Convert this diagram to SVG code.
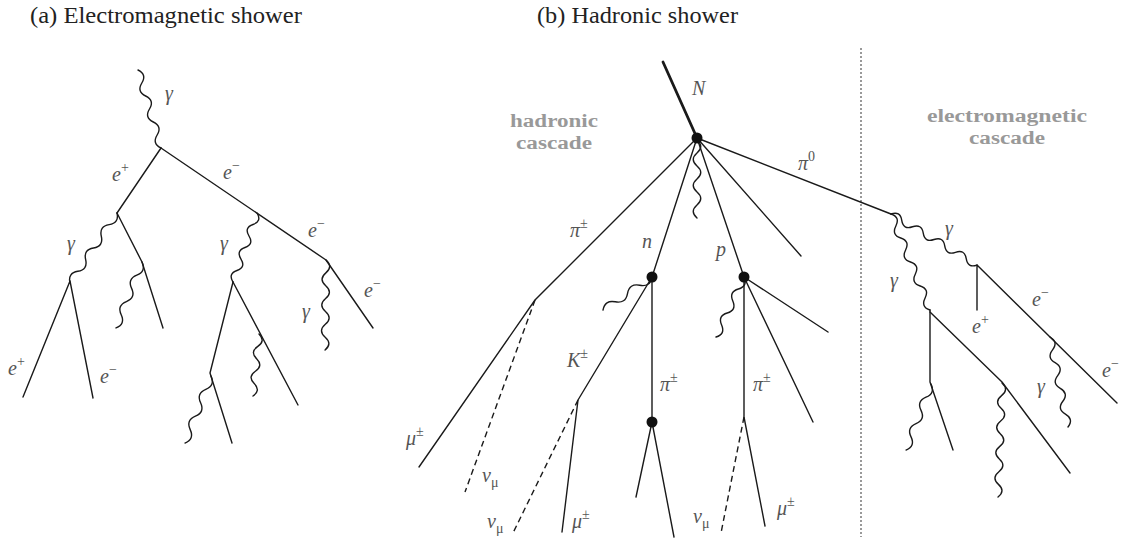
<svg xmlns="http://www.w3.org/2000/svg" width="1121" height="545" viewBox="0 0 1121 545">
<style>
.t{font-family:'Liberation Serif','DejaVu Serif','Times New Roman',serif;font-size:23px;fill:#222}
.l{fill:none;stroke:#1a1a1a;stroke-width:1.4;stroke-linecap:round;stroke-linejoin:round}
.w{fill:none;stroke:#1a1a1a;stroke-width:1.4;stroke-linecap:round}
.d{fill:none;stroke:#1a1a1a;stroke-width:1.4;stroke-dasharray:6,4}
.m{font-family:'Liberation Serif','DejaVu Serif','Times New Roman',serif;font-style:italic;font-size:20px;fill:#555}
.s{font-style:normal;font-size:14px}
.g{font-family:'Liberation Serif','DejaVu Serif','Times New Roman',serif;font-weight:bold;font-size:18.5px;fill:#999;text-anchor:middle}
.dot{fill:#111}
</style>
<rect width="1121" height="545" fill="#fff"/>
<g id="titles">
<text class="t" x="30" y="23" textLength="272" lengthAdjust="spacingAndGlyphs">(a) Electromagnetic shower</text>
<text class="t" x="537" y="23" textLength="201" lengthAdjust="spacingAndGlyphs">(b) Hadronic shower</text>
</g>
<g id="regions">
<line x1="861" y1="48" x2="861" y2="537" stroke="#999" stroke-width="2" stroke-dasharray="2,2"/>
<text class="g" x="554" y="127" textLength="88" lengthAdjust="spacingAndGlyphs">hadronic</text>
<text class="g" x="554" y="149" textLength="76" lengthAdjust="spacingAndGlyphs">cascade</text>
<text class="g" x="1007" y="122" textLength="160" lengthAdjust="spacingAndGlyphs">electromagnetic</text>
<text class="g" x="1007" y="144" textLength="76" lengthAdjust="spacingAndGlyphs">cascade</text>
</g>
<g id="connectors">
<path class="w" transform="translate(138,70) rotate(73.6)" d="M0,0q6.78,-7.5 13.55,0t13.55,0t13.55,0t13.55,0t13.55,0t13.55,0"/>
<path class="l" d="M161,148L117,213"/>
<path class="l" d="M161,148L326,260L373,328"/>
<path class="w" transform="translate(117,213) rotate(123.9)" d="M0,0q7.03,-7.5 14.05,0t14.05,0t14.05,0t14.05,0t14.05,0t14.05,0"/>
<path class="l" d="M117,213L142,262L163,328"/>
<path class="w" transform="translate(142,262) rotate(111.5)" d="M0,0q7.09,-7.5 14.18,0t14.18,0t14.18,0t14.18,0t14.18,0"/>
<path class="l" d="M70,281L23,397M70,281L93,398"/>
<path class="w" transform="translate(257,213) rotate(109.2)" d="M0,0q6.09,-7.5 12.18,0t12.18,0t12.18,0t12.18,0t12.18,0t12.18,0"/>
<path class="w" transform="translate(326,260) rotate(90.6)" d="M0,0q6.43,-7.5 12.86,0t12.86,0t12.86,0t12.86,0t12.86,0t12.86,0t12.86,0"/>
<path class="l" d="M233,282L210,373L232,443"/>
<path class="l" d="M233,282L298,405"/>
<path class="w" transform="translate(259,334) rotate(95.5)" d="M0,0q6.23,-7.5 12.46,0t12.46,0t12.46,0t12.46,0t12.46,0"/>
<path class="w" transform="translate(211,376) rotate(111.2)" d="M0,0q7.19,-7.5 14.38,0t14.38,0t14.38,0t14.38,0t14.38,0"/>
<path d="M663,62L697,138" fill="none" stroke="#1a1a1a" stroke-width="2.8" stroke-linecap="round"/>
<path class="l" d="M697,138L535,300L419,467"/>
<path class="d" d="M535,300L465,492"/>
<path class="l" d="M697,138L652,277M697,138L744,277M697,138L801,256M697,138L891,214"/>
<path class="w" transform="translate(697,140) rotate(90)" d="M0,0q6.5,-7.5 13,0t13,0t13,0t13,0t13,0t13,0"/>
<path class="w" transform="translate(652,277) rotate(146)" d="M0,0q7.39,-7.5 14.78,0t14.78,0t14.78,0t14.78,0"/>
<path class="l" d="M652,277L578,400L562,532"/>
<path class="d" d="M578,400L513,533"/>
<path class="l" d="M652,277L652,422L636,497M652,422L674,537"/>
<path class="w" transform="translate(744,277) rotate(115)" d="M0,0q6.62,-7.5 13.24,0t13.24,0t13.24,0t13.24,0t13.24,0"/>
<path class="l" d="M744,277L744,417L765,526M744,277L813,422M744,277L828,332"/>
<path class="d" d="M744,417L721,533"/>
<path class="w" transform="translate(891,214) rotate(30.7)" d="M0,0q6.25,-7.5 12.5,0t12.5,0t12.5,0t12.5,0t12.5,0t12.5,0t12.5,0t12.5,0"/>
<path class="w" transform="translate(891,214) rotate(67.9)" d="M0,0q6.48,-7.5 12.95,0t12.95,0t12.95,0t12.95,0t12.95,0t12.95,0t12.95,0t12.95,0"/>
<path class="l" d="M977,265L977,310M977,265L1117,403"/>
<path class="w" transform="translate(1050,337) rotate(78.7)" d="M0,0q6.56,-7.5 13.11,0t13.11,0t13.11,0t13.11,0t13.11,0t13.11,0t13.11,0"/>
<path class="l" d="M930,310L930,382L953,450"/>
<path class="w" transform="translate(931,384) rotate(110.7)" d="M0,0q7.06,-7.5 14.12,0t14.12,0t14.12,0t14.12,0t14.12,0"/>
<path class="l" d="M930,312L1002,382L1070,473"/>
<path class="w" transform="translate(1002,383) rotate(92)" d="M0,0q6.34,-7.5 12.68,0t12.68,0t12.68,0t12.68,0t12.68,0t12.68,0t12.68,0t12.68,0t12.68,0"/>
</g>
<g id="vertex-N"><circle class="dot" cx="697" cy="138" r="5.5"/></g>
<g id="vertex-n"><circle class="dot" cx="652" cy="277" r="5.5"/></g>
<g id="vertex-p"><circle class="dot" cx="744" cy="277" r="5.5"/></g>
<g id="vertex-pi"><circle class="dot" cx="652" cy="422" r="5.5"/></g>
<g id="labels-a">
<text class="m" x="165" y="100">γ</text>
<text class="m" x="112" y="181">e<tspan class="s" dy="-9">+</tspan></text>
<text class="m" x="223" y="179">e<tspan class="s" dy="-9">−</tspan></text>
<text class="m" x="67" y="250">γ</text>
<text class="m" x="220" y="250">γ</text>
<text class="m" x="308" y="237">e<tspan class="s" dy="-9">−</tspan></text>
<text class="m" x="302" y="318">γ</text>
<text class="m" x="364" y="297">e<tspan class="s" dy="-9">−</tspan></text>
<text class="m" x="8" y="375">e<tspan class="s" dy="-9">+</tspan></text>
<text class="m" x="100" y="383">e<tspan class="s" dy="-9">−</tspan></text>
</g>
<g id="labels-b">
<text class="m" x="692" y="95">N</text>
<text class="m" x="570" y="237">π<tspan class="s" dy="-9">±</tspan></text>
<text class="m" x="642" y="248">n</text>
<text class="m" x="716" y="256">p</text>
<text class="m" x="798" y="170">π<tspan class="s" dy="-9">0</tspan></text>
<text class="m" x="567" y="367">K<tspan class="s" dy="-9">±</tspan></text>
<text class="m" x="660" y="391">π<tspan class="s" dy="-9">±</tspan></text>
<text class="m" x="753" y="391">π<tspan class="s" dy="-9">±</tspan></text>
<text class="m" x="406" y="445">μ<tspan class="s" dy="-9">±</tspan></text>
<text class="m" x="482" y="482">ν<tspan class="s" font-style="italic" dy="5">μ</tspan></text>
<text class="m" x="487" y="528">ν<tspan class="s" font-style="italic" dy="5">μ</tspan></text>
<text class="m" x="572" y="528">μ<tspan class="s" dy="-9">±</tspan></text>
<text class="m" x="693" y="523">ν<tspan class="s" font-style="italic" dy="5">μ</tspan></text>
<text class="m" x="777" y="515">μ<tspan class="s" dy="-9">±</tspan></text>
<text class="m" x="945" y="235">γ</text>
<text class="m" x="890" y="287">γ</text>
<text class="m" x="1032" y="306">e<tspan class="s" dy="-9">−</tspan></text>
<text class="m" x="972" y="333">e<tspan class="s" dy="-9">+</tspan></text>
<text class="m" x="1102" y="377">e<tspan class="s" dy="-9">−</tspan></text>
<text class="m" x="1037" y="393">γ</text>
</g>
</svg>
